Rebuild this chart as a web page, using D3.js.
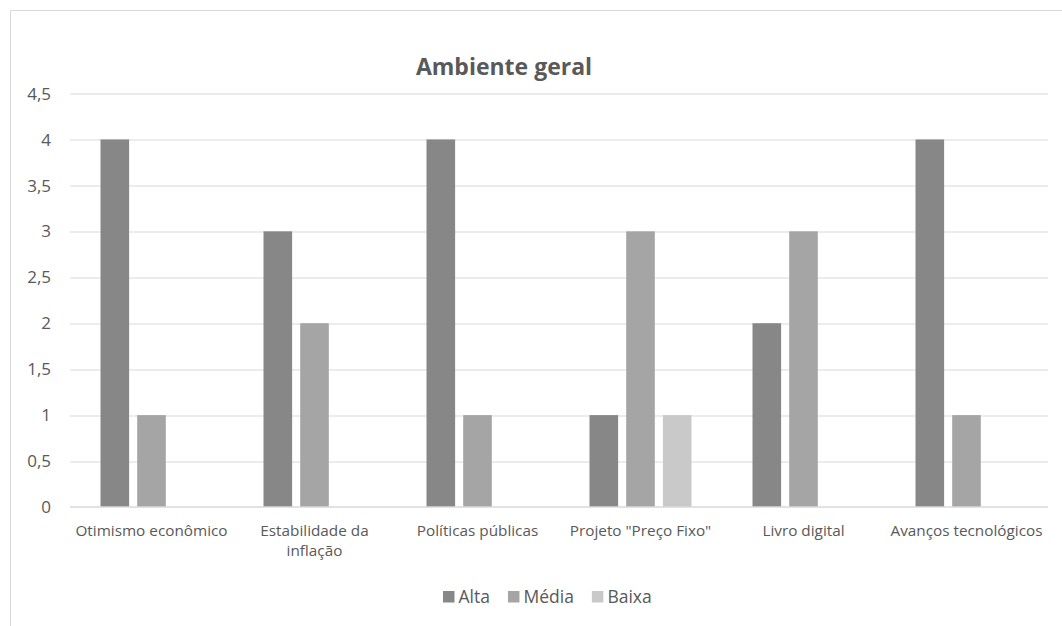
<!DOCTYPE html>
<html>
<head>
<meta charset="utf-8">
<script src="https://cdn.jsdelivr.net/npm/d3@7"></script>
<style>
  body { margin: 0; background: #fff; }
  text { font-family: "Open Sans", "Noto Sans", sans-serif; fill: #595959; }
</style>
</head>
<body>
<div id="chart"></div>
<script>
(function() {
  // data
  var categories = ['Otimismo econômico', 'Estabilidade da inflação', 'Políticas públicas', 'Projeto "Preço Fixo"', 'Livro digital', 'Avanços tecnológicos']
  var seriesNames = ['Alta', 'Média', 'Baixa']
  var alta = [4, 3, 4, 1, 2, 4]
  var media = [1, 2, 1, 3, 3, 1]
  var baixa = [0, 0, 0, 1, 0, 0]
  var yTicks = [0, 0.5, 1, 1.5, 2, 2.5, 3, 3.5, 4, 4.5]
  var colors = ['#878787', '#a5a5a5', '#c9c9c9']

  var W = 1062, H = 626
  var margin = { left: 70, right: 14, top: 93.5, bottom: 119 }
  var width = W - margin.left - margin.right
  var height = H - margin.top - margin.bottom

  var svg = d3.select('#chart').append('svg')
    .attr('width', W)
    .attr('height', H)

  // chart frame (cropped at right and bottom)
  svg.append('path')
    .attr('d', 'M10.5,' + H + 'V10.5H' + W)
    .attr('fill', 'none')
    .attr('stroke', '#d9d9d9')

  svg.append('text')
    .text('Ambiente geral')
    .attr('x', 504)
    .attr('y', 75)
    .attr('text-anchor', 'middle')
    .attr('font-size', 23)
    .attr('font-weight', 'bold')

  var g = svg.append('g')
    .attr('transform', `translate(${margin.left},${margin.top})`)

  var x = d3.scaleBand().domain(categories).range([0, width])
  var xInner = d3.scaleBand().domain(seriesNames).range([0, 102]).paddingInner(0.22)
  var y = d3.scaleLinear().domain([0, 4.5]).range([height, 0])

  // gridlines
  g.append('g')
    .selectAll('line')
    .data(yTicks.filter(d => d > 0))
    .enter().append('line')
    .attr('x1', 0)
    .attr('x2', width)
    .attr('y1', d => Math.round(y(d)) + 0.5)
    .attr('y2', d => Math.round(y(d)) + 0.5)
    .attr('stroke', '#d9d9d9')

  // y labels
  g.append('g')
    .selectAll('text')
    .data(yTicks)
    .enter().append('text')
    .text(d => String(d).replace('.', ','))
    .attr('x', -19)
    .attr('y', d => y(d))
    .attr('dy', '0.36em')
    .attr('text-anchor', 'end')
    .attr('font-size', 17)

  var rows = []
  categories.forEach((c, i) => {
    [alta[i], media[i], baixa[i]].forEach((v, j) => {
      rows.push({ cat: c, series: seriesNames[j], value: v, color: colors[j] })
    })
  })

  g.append('g')
    .selectAll('rect')
    .data(rows.filter(d => d.value > 0))
    .enter().append('rect')
    .attr('x', d => x(d.cat) + x.bandwidth() / 2 - 51 + xInner(d.series))
    .attr('width', xInner.bandwidth())
    .attr('y', d => y(d.value))
    .attr('height', d => y(0) - y(d.value))
    .attr('fill', d => d.color)

  // baseline
  g.append('line')
    .attr('x1', 0)
    .attr('x2', width)
    .attr('y1', y(0))
    .attr('y2', y(0))
    .attr('stroke', '#d9d9d9')
    .attr('stroke-width', 1.5)

  // category labels, wrapped when too wide
  var labels = g.append('g')
    .selectAll('text')
    .data(categories)
    .enter().append('text')
    .attr('text-anchor', 'middle')
    .attr('font-size', 15.3)
    .attr('x', d => x(d) + x.bandwidth() / 2)
    .attr('y', height + 29)

  labels.each(function(d) {
    var t = d3.select(this)
    var lines = d === 'Estabilidade da inflação' ? ['Estabilidade da', 'inflação'] : [d]
    lines.forEach((l, i) => {
      t.append('tspan')
        .text(l)
        .attr('x', x(d) + x.bandwidth() / 2)
        .attr('dy', i === 0 ? 0 : 20)
    })
  })

  // legend
  var legend = svg.append('g').attr('transform', 'translate(0,603)')
  var lx = 443
  seriesNames.forEach((s, i) => {
    legend.append('rect')
      .attr('x', lx)
      .attr('y', -12)
      .attr('width', 11.5)
      .attr('height', 11.5)
      .attr('fill', colors[i])
    var t = legend.append('text')
      .text(s)
      .attr('x', lx + 15.5)
      .attr('y', 0)
      .attr('font-size', 17.5)
    lx += 15.5 + t.node().getComputedTextLength() + 18
  })
})()
</script>
</body>
</html>
